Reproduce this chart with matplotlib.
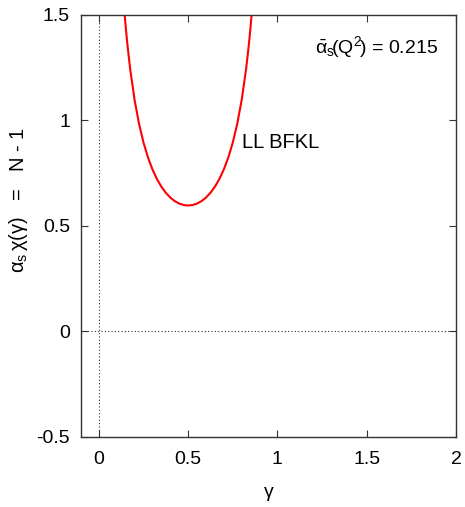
import matplotlib
matplotlib.use("Agg")
import matplotlib.pyplot as plt

plt.rcParams['font.family'] = ['Liberation Sans', 'DejaVu Sans']
plt.rcParams['mathtext.fontset'] = 'custom'
plt.rcParams['mathtext.rm'] = 'Liberation Sans'
plt.rcParams['mathtext.it'] = 'Liberation Sans'
plt.rcParams['mathtext.bf'] = 'Liberation Sans:bold'

# LL BFKL eigenvalue times alpha_s, tabulated on gamma (symmetric about 1/2)
gamma_left = [0.13, 0.14, 0.15, 0.16, 0.175, 0.2, 0.225, 0.25, 0.275, 0.3,
              0.325, 0.35, 0.375, 0.4, 0.425, 0.45, 0.475, 0.5]
omega_left = [1.6627, 1.5460, 1.4452, 1.3573, 1.2448, 1.0964, 0.9829, 0.8942,
              0.8237, 0.7672, 0.7217, 0.6852, 0.6562, 0.6337, 0.6169, 0.6052,
              0.5984, 0.5961]
gamma_vals = gamma_left + [round(1 - g, 3) for g in reversed(gamma_left[:-1])]
omega_vals = omega_left + list(reversed(omega_left[:-1]))

alpha_bar = 0.215
curve_label = "LL BFKL"
x_ticks = [0, 0.5, 1, 1.5, 2]
x_ticklabels = ["0", "0.5", "1", "1.5", "2"]
y_ticks = [-0.5, 0, 0.5, 1, 1.5]
y_ticklabels = ["-0.5", "0", "0.5", "1", "1.5"]

fig = plt.figure(figsize=(4.65, 5.07), dpi=100)
ax = fig.add_axes([0.1742, 0.1381, 0.8064, 0.8331])

ax.plot(gamma_vals, omega_vals, color='#ff0000', lw=1.5, clip_on=True)
ax.axhline(0, color='#333333', lw=0.8, ls=(0, (1, 2)))
ax.axvline(0, color='#333333', lw=0.8, ls=(0, (1, 2)))

ax.set_xlim(-0.1, 2)
ax.set_ylim(-0.5, 1.5)
ax.set_xticks(x_ticks)
ax.set_xticklabels(x_ticklabels)
ax.set_yticks(y_ticks)
ax.set_yticklabels(y_ticklabels)
ax.tick_params(direction='in', length=5, width=0.8, color='#333333',
               labelsize=14, top=True, right=True, pad=8)
ax.tick_params(axis='x', pad=10)
for sp in ax.spines.values():
    sp.set_color('#333333')
    sp.set_linewidth(1.0)

ax.text(0.80, 0.896, curve_label, fontsize=14.5, ha='left', va='center')
ax.text(0.952, 0.922, r'$\bar{\alpha}_{\rm s}\!(Q^2\!)$' + ' = %.3f' % alpha_bar,
        transform=ax.transAxes, fontsize=14, ha='right', va='center')

ax.set_xlabel(r'$\gamma$', fontsize=14, family=['DejaVu Sans'])
ax.xaxis.set_label_coords(0.5, -0.112)
ax.set_ylabel(r'$\alpha_{\rm s}\,\chi(\gamma)$' + '   =   N - 1', fontsize=14.5)
ax.yaxis.set_label_coords(-0.135, 0.562)

fig.savefig('out.png', dpi=100)
